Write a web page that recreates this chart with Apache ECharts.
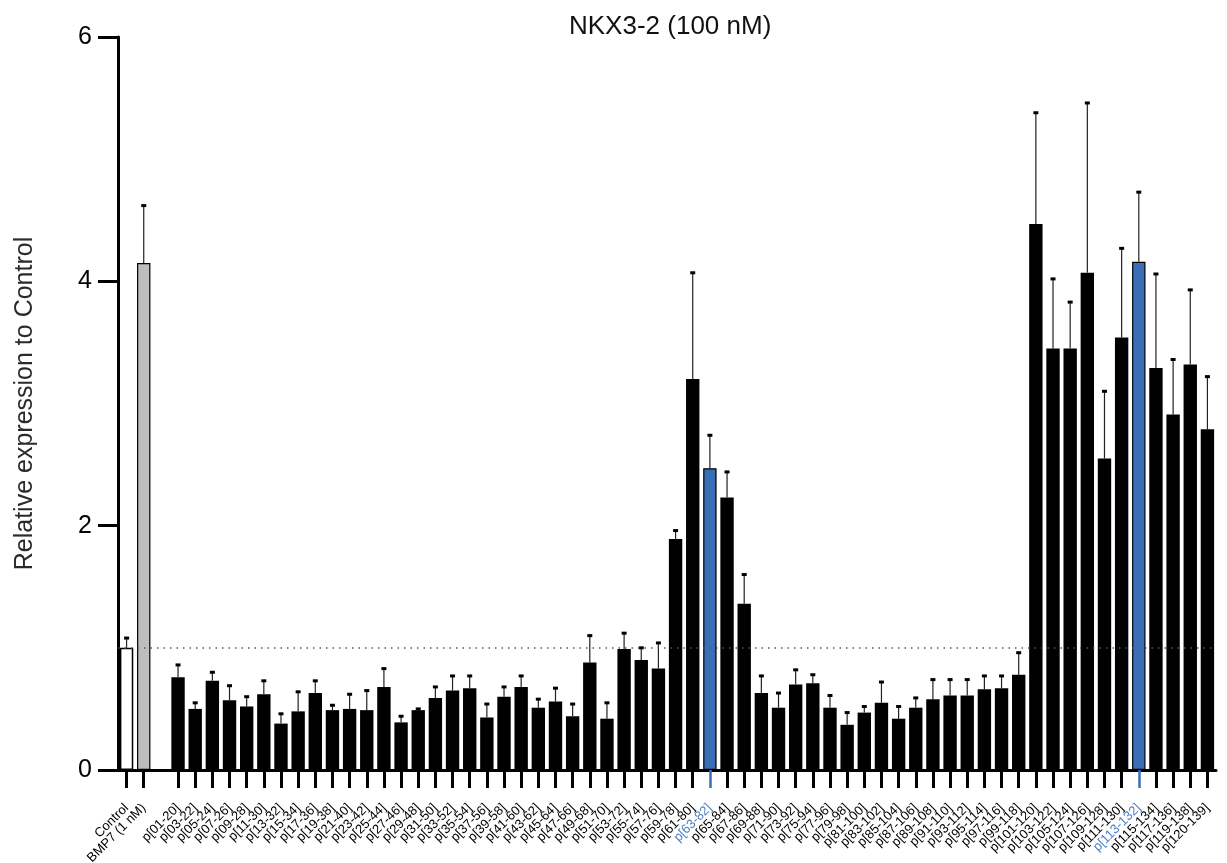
<!DOCTYPE html>
<html>
<head>
<meta charset="utf-8">
<script src="https://cdn.jsdelivr.net/npm/echarts@6/dist/echarts.min.js"></script>
<style>html,body{margin:0;padding:0;background:#fff;}#c{width:1227px;height:863px;}</style>
</head>
<body>
<div id="c"></div>
<script>
const categories = ['Control','BMP7 (1 nM)','',
'p[01-20]','p[03-22]','p[05-24]','p[07-26]','p[09-28]','p[11-30]','p[13-32]','p[15-34]','p[17-36]','p[19-38]',
'p[21-40]','p[23-42]','p[25-44]','p[27-46]','p[29-48]','p[31-50]','p[33-52]','p[35-54]','p[37-56]','p[39-58]',
'p[41-60]','p[43-62]','p[45-64]','p[47-66]','p[49-68]','p[51-70]','p[53-72]','p[55-74]','p[57-76]','p[59-78]',
'p[61-80]','p[63-82]','p[65-84]','p[67-86]','p[69-88]','p[71-90]','p[73-92]','p[75-94]','p[77-96]','p[79-98]',
'p[81-100]','p[83-102]','p[85-104]','p[87-106]','p[89-108]','p[91-110]','p[93-112]','p[95-114]','p[97-116]','p[99-118]',
'p[101-120]','p[103-122]','p[105-124]','p[107-126]','p[109-128]','p[111-130]','p[113-132]','p[115-134]','p[117-136]','p[119-138]',
'p[120-139]'];

// bar heights (mean relative expression)
const means = [1.00, 4.15, null,
0.76,0.50,0.73,0.57,0.52,0.62,0.38,0.48,0.63,0.49,
0.50,0.49,0.68,0.39,0.49,0.59,0.65,0.67,0.43,0.60,
0.68,0.51,0.56,0.44,0.88,0.42,0.99,0.90,0.83,1.89,
3.20,2.47,2.23,1.36,0.63,0.51,0.70,0.71,0.51,0.37,
0.47,0.55,0.42,0.51,0.58,0.61,0.61,0.66,0.67,0.78,
4.47,3.45,3.45,4.07,2.55,3.54,4.16,3.29,2.91,3.32,
2.79];

// top of the error bar
const errorTop = [1.08, 4.62, null,
0.86,0.55,0.80,0.69,0.60,0.73,0.46,0.64,0.73,0.53,
0.62,0.65,0.83,0.44,0.50,0.68,0.77,0.77,0.54,0.68,
0.77,0.58,0.67,0.54,1.10,0.55,1.12,1.00,1.04,1.96,
4.07,2.74,2.44,1.60,0.77,0.63,0.82,0.78,0.61,0.47,
0.52,0.72,0.52,0.59,0.74,0.74,0.74,0.77,0.77,0.96,
5.38,4.02,3.83,5.46,3.10,4.27,4.73,4.06,3.36,3.93,
3.22];

const highlighted = ['p[63-82]','p[113-132]'];
const yTicks = [0, 2, 4, 6];
const referenceLevel = 1;

const BLUE = '#3a6fb7';
const BLUE_TEXT = '#4d82c6';
const FONT = '"Liberation Sans", Arial, Helvetica, sans-serif';

function barStyle(name) {
  if (name === 'Control') return {color:'#ffffff', borderColor:'#000', borderWidth:1.5};
  if (name === 'BMP7 (1 nM)') return {color:'#bdbdbd', borderColor:'#000', borderWidth:1.2};
  if (highlighted.includes(name)) return {color:BLUE, borderColor:'#000', borderWidth:1.2};
  return {color:'#000000', borderColor:'#000', borderWidth:0};
}

const barData = means.map((v, i) => v == null ? '-' : ({value: v, itemStyle: barStyle(categories[i])}));
const errData = [];
means.forEach((v, i) => { if (v != null) errData.push([i, v, errorTop[i]]); });

const chart = echarts.init(document.getElementById('c'), null, {renderer:'canvas'});
chart.setOption({
  backgroundColor:'#ffffff',
  animation:false,
  title:{
    text:'NKX3-2 (100 nM)',
    left:564, top:9,
    textStyle:{fontFamily:FONT, fontSize:26, fontWeight:'normal', color:'#111'}
  },
  grid:{left:118, right:11, top:37, bottom:93, containLabel:false, outerBoundsMode:'none'},
  xAxis:[{
    type:'category',
    data:categories,
    boundaryGap:true,
    axisLine:{show:true, lineStyle:{color:'#000', width:3}},
    axisTick:{show:true, alignWithLabel:true, length:18, lineStyle:{color:'#000', width:3},
      interval:(i, v) => v !== '' && !highlighted.includes(v)},
    axisLabel:{
      interval:0, rotate:45, margin:36, fontFamily:FONT, fontSize:13, color:'#000',
      formatter:(v) => highlighted.includes(v) ? '{hl|' + v + '}' : v,
      rich:{hl:{color:BLUE_TEXT, fontFamily:FONT, fontSize:13}}
    },
    splitLine:{show:false}
  },{
    type:'category',
    data:categories,
    position:'bottom',
    boundaryGap:true,
    axisLine:{show:false},
    axisTick:{show:true, alignWithLabel:true, length:18, lineStyle:{color:BLUE, width:2.5},
      interval:(i, v) => highlighted.includes(v)},
    axisLabel:{show:false},
    splitLine:{show:false}
  }],
  yAxis:{
    type:'value',
    min:yTicks[0], max:yTicks[yTicks.length-1], interval:2,
    name:'Relative expression to Control',
    nameLocation:'middle', nameGap:80,
    nameTextStyle:{fontFamily:FONT, fontSize:25, color:'#2a2a2a'},
    axisLine:{show:true, lineStyle:{color:'#000', width:3}},
    axisTick:{show:true, length:20, lineStyle:{color:'#000', width:3}},
    axisLabel:{fontFamily:FONT, fontSize:25, color:'#000', margin:26},
    splitLine:{show:false}
  },
  series:[{
    type:'bar',
    data:barData,
    barWidth:'78%',
    z:3,
    markLine:{
      silent:true, symbol:'none',
      label:{show:false},
      emphasis:{disabled:true},
      lineStyle:{color:'#555', type:[1.5,5], width:1.5},
      data:[{yAxis: referenceLevel}]
    }
  },{
    type:'custom',
    data:errData,
    z:4,
    encode:{x:0, y:[1,2]},
    renderItem:(params, api) => {
      const i = api.value(0);
      const p0 = api.coord([i, api.value(1)]);
      const p1 = api.coord([i, api.value(2)]);
      return {type:'group', children:[
        {type:'line', shape:{x1:p0[0], y1:p0[1], x2:p1[0], y2:p1[1]}, style:{stroke:'#222', lineWidth:1.2}},
        {type:'rect', shape:{x:p1[0]-2.5, y:p1[1]-1.5, width:5, height:3}, style:{fill:'#000'}}
      ]};
    }
  }]
});
</script>
</body>
</html>
